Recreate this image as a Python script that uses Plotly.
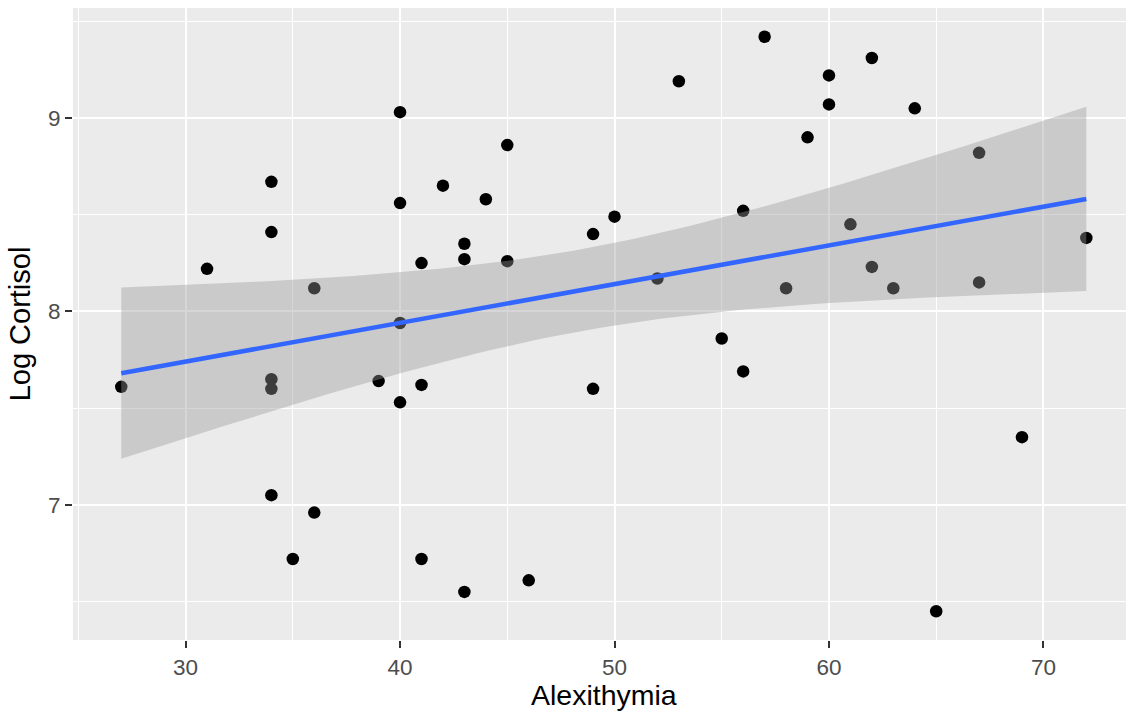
import numpy as np
import plotly.graph_objects as go

# Data
alexithymia = [27, 31, 34, 34, 34, 34, 34, 35, 36, 36, 39, 40, 40, 40, 40, 41, 41, 41,
               42, 43, 43, 43, 44, 45, 45, 46, 49, 49, 50, 52, 53, 55, 56, 56, 57, 58,
               59, 60, 60, 61, 62, 62, 63, 64, 65, 67, 67, 69, 72]
log_cortisol = [7.61, 8.22, 8.67, 8.41, 7.65, 7.60, 7.05, 6.72, 8.12, 6.96, 7.64, 9.03,
                8.56, 7.94, 7.53, 8.25, 7.62, 6.72, 8.65, 8.35, 8.27, 6.55, 8.58, 8.86,
                8.26, 6.61, 8.40, 7.60, 8.49, 8.17, 9.19, 7.86, 8.52, 7.69, 9.42, 8.12,
                8.90, 9.22, 9.07, 8.45, 9.31, 8.23, 8.12, 9.05, 6.45, 8.82, 8.15, 7.35, 8.38]
x_ticks = [30, 40, 50, 60, 70]
y_ticks = [7, 8, 9]

X = np.array(alexithymia, dtype=float)
Y = np.array(log_cortisol, dtype=float)
n = len(X)

# Linear fit with 95% confidence band (as geom_smooth(method="lm"))
slope, intercept = np.polyfit(X, Y, 1)
resid = Y - (intercept + slope * X)
s = np.sqrt(np.sum(resid ** 2) / (n - 2))
xbar = X.mean()
sxx = np.sum((X - xbar) ** 2)
t_crit = 2.0117  # t(0.975, df=47)
xs = np.linspace(X.min(), X.max(), 80)
fit = intercept + slope * xs
se = s * np.sqrt(1.0 / n + (xs - xbar) ** 2 / sxx)
upper = fit + t_crit * se
lower = fit - t_crit * se

fig = go.Figure()
fig.add_trace(go.Scatter(x=X, y=Y, mode="markers",
                         marker=dict(color="black", size=12.5, line=dict(width=0)),
                         showlegend=False, hoverinfo="x+y"))
fig.add_trace(go.Scatter(x=np.concatenate([xs, xs[::-1]]),
                         y=np.concatenate([upper, lower[::-1]]),
                         fill="toself", fillcolor="rgba(153,153,153,0.4)",
                         line=dict(width=0), mode="lines",
                         showlegend=False, hoverinfo="skip"))
fig.add_trace(go.Scatter(x=xs, y=fit, mode="lines",
                         line=dict(color="#3366FF", width=4.5),
                         showlegend=False, hoverinfo="skip"))

xspan = X.max() - X.min()
yspan = Y.max() - Y.min()
x_lo = X.min() - 0.05 * xspan
x_hi = 73.85
y_lo = Y.min() - 0.05 * yspan
y_hi = Y.max() + 0.05 * yspan

axis_common = dict(
    showgrid=True, gridcolor="white", gridwidth=2.2,
    zeroline=False, showline=False,
    ticks="outside", ticklen=7, tickwidth=2, tickcolor="#333333",
    tickfont=dict(family="Liberation Sans, Arial, sans-serif", size=22.5, color="#4D4D4D"),
)

fig.update_layout(
    width=1126, height=711,
    margin=dict(l=73, r=0, t=8, b=71),
    paper_bgcolor="white", plot_bgcolor="#EBEBEB",
    font=dict(family="Liberation Sans, Arial, sans-serif"),
    xaxis=dict(range=[x_lo, x_hi], tickvals=x_ticks, ticktext=[str(v) for v in x_ticks],
               minor=dict(tickvals=[25, 35, 45, 55, 65], showgrid=True,
                          gridcolor="white", gridwidth=1.1, ticks=""),
               **axis_common),
    yaxis=dict(range=[y_lo, y_hi], tickvals=y_ticks, ticktext=[str(v) for v in y_ticks],
               minor=dict(tickvals=[6.5, 7.5, 8.5, 9.5], showgrid=True,
                          gridcolor="white", gridwidth=1.1, ticks=""),
               title=dict(text="Log Cortisol", standoff=8,
                          font=dict(size=29, color="black")),
               **axis_common),
    annotations=[dict(text="Alexithymia", x=(X.min() + X.max()) / 2, xref="x",
                      y=0, yref="paper", yshift=-55, yanchor="middle",
                      showarrow=False, font=dict(size=28.5, color="black"))],
)

fig.write_html("out.html", config={"displayModeBar": False},
               post_script="document.body.style.margin='0';document.body.style.overflow='hidden';")
